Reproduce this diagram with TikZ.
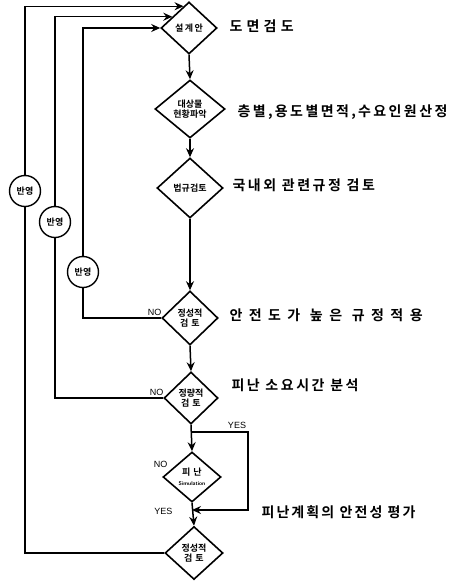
\documentclass[tikz,border=0pt]{standalone}
\usepackage{fontspec}
\setmainfont{Liberation Sans}
\newfontfamily\kr{Noto Sans CJK KR}
\newfontfamily\krb{Noto Sans CJK KR Bold}
\usetikzlibrary{shapes.geometric,arrows.meta}
\newcommand{\ls}[1]{\addfontfeature{LetterSpace=#1}}
\begin{document}
\begin{tikzpicture}[x=1pt,y=-1pt,
  ln/.style={line width=1.5pt,line join=miter},
  arr/.style={ln,-{Stealth[length=9pt,width=8pt,inset=3pt]}},
  dia/.style={diamond,draw,line width=1.6pt,inner sep=0pt,align=center,font=\krb\fontsize{9}{10.5}\selectfont},
  note/.style={anchor=west,font=\krb\fontsize{14}{16}\selectfont},
  refl/.style={circle,draw,line width=1.4pt,fill=white,minimum size=31pt,inner sep=0pt,font=\krb\fontsize{9}{10}\selectfont},
  lab/.style={font=\fontsize{9}{10}\selectfont}]
\useasboundingbox (0,0) rectangle (456,582);
\node[dia,minimum width=56pt,minimum height=52pt] (d1) at (189,28) {설\,계\,안};
\node[dia,minimum width=70pt,minimum height=58pt] (d2) at (190,109) {대상물\\현황파악};
\node[dia,minimum width=66pt,minimum height=60pt] (d3) at (190,188) {법규검토};
\node[dia,minimum width=56pt,minimum height=54pt] (d4) at (190,318) {정성적\\검\,\,토};
\node[dia,minimum width=54pt,minimum height=52pt] (d5) at (191,398) {정량적\\검\,\,토};
\node[dia,minimum width=58pt,minimum height=50pt] (d6) at (192,477) {피\,\,난\\[-1pt]{\fontfamily{}\sffamily\bfseries\fontsize{5.5}{6}\selectfont Simulation}};
\node[dia,minimum width=58pt,minimum height=53pt] (d7) at (194,553) {정성적\\검\,\,토};

\node[note] (t1) at (226,26) {\ls{30}도면검도};
\node[note] (t2) at (234,112) {\ls{17}층별,용도별면적,수요인원산정};
\node[note] (t3) at (229,185) {\ls{18}국내외 관련규정 검토};
\node[note] (t4) at (226,315) {\ls{46}안전도가 높은 규정적용};
\node[note] (t5) at (228,385) {\ls{18}피난 소요시간 분석};
\node[note] (t6) at (258,512) {\ls{15}피난계획의 안전성 평가};

\draw[arr] (d1.south) -- (d2.north);
\draw[arr] (d2.south) -- (d3.north);
\draw[arr] (d3.south) -- (d4.north);
\draw[arr] (d4.south) -- (d5.north);
\draw[arr] (d5.south) -- (d6.north);
\draw[arr] (d6.south) -- (d7.north);

\coordinate (yb) at (0,432);
\coordinate (yr) at (248,510);
\draw[arr] (d5.south |- yb) -| (yr) -- (d6.south |- yr);
\node[lab,anchor=south] (yes1) at (237,432) {YES};
\node[lab,anchor=east] (yes2) at (176,511) {YES};
\node[lab,anchor=south east] (no1) at (165,319) {NO};
\node[lab,anchor=south east] (no2) at (167,399) {NO};
\node[lab,anchor=south east] (no3) at (171,471) {NO};

\coordinate (xi) at (83,0);
\coordinate (xm) at (55,0);
\coordinate (xo) at (25,0);
\draw[arr] (d4.west) -| (xi |- d1.west) -- (d1.west);
\draw[arr] (d5.west) -| (xm |- d1.146) -- (d1.146);
\draw[arr] (d7.west) -| (xo |- d1.104) -- (d1.104);

\node[refl] (r1) at (25,191) {반영};
\node[refl] (r2) at (55,222) {반영};
\node[refl] (r3) at (83,272) {반영};
\end{tikzpicture}
\end{document}
